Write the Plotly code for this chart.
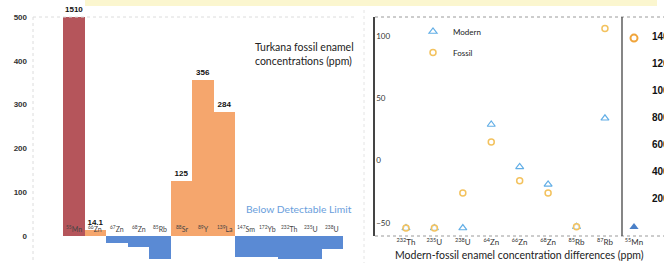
import plotly.graph_objects as go

W, H = 664, 263

# ---------------- data ----------------
conc_elements = ["<sup>55</sup>Mn", "<sup>66</sup>Zn", "<sup>67</sup>Zn", "<sup>68</sup>Zn", "<sup>85</sup>Rb",
                 "<sup>88</sup>Sr", "<sup>89</sup>Y", "<sup>139</sup>La", "<sup>147</sup>Sm", "<sup>172</sup>Yb",
                 "<sup>232</sup>Th", "<sup>235</sup>U", "<sup>238</sup>U"]
conc_values = [1510, 14.1, -16, -25, -52, 125, 356, 284, -48, -48, -52, -52, -30]
conc_status = ["max", "ok", "bdl", "bdl", "bdl", "ok", "ok", "ok", "bdl", "bdl", "bdl", "bdl", "bdl"]
conc_ticks = [0, 100, 200, 300, 400, 500]

diff_elements = ["<sup>232</sup>Th", "<sup>235</sup>U", "<sup>238</sup>U", "<sup>64</sup>Zn",
                 "<sup>66</sup>Zn", "<sup>68</sup>Zn", "<sup>85</sup>Rb", "<sup>87</sup>Rb"]
modern_diff = [-54, -54, -54, 29, -5, -19, -53, 34]
fossil_diff = [-54, -54, -26, 15, -16, -26, -53, 106]
diff_ticks = [-50, 0, 50, 100]

mn_elements = ["<sup>55</sup>Mn"]
mn_modern = [-15]
mn_fossil = [1385]
mn_ticks = [200, 400, 600, 800, 1000, 1200, 1400]

# ---------------- helpers ----------------
def px(x):
    return x / W

def py(y):
    return 1 - y / H

status_color = {"max": "#B5555B", "ok": "#F5A66D", "bdl": "#5A8AD4"}
FONT = "Lato"
BOLD = "Liberation Sans"

idx = list(range(len(conc_elements)))
bar_text = [("" if s == "max" or v <= 0 else f"{v:g}") for v, s in zip(conc_values, conc_status)]
bar_pos = ["outside" if t else "none" for t in bar_text]

fig = go.Figure()
fig.add_trace(go.Bar(
    x=idx, y=conc_values, width=1,
    marker=dict(color=[status_color[s] for s in conc_status], line=dict(width=0)),
    text=bar_text, textposition=bar_pos, constraintext="none",
    textfont=dict(family=BOLD, size=8, color="#111", weight="bold"),
    showlegend=False, xaxis="x", yaxis="y", cliponaxis=True,
))

fig.add_trace(go.Scatter(
    x=diff_elements, y=modern_diff, mode="markers", name="Modern", legendgroup="m",
    marker=dict(symbol="triangle-up", size=7, color="rgba(255,255,255,0.7)",
                line=dict(color="#62AEE6", width=1.2)),
    xaxis="x2", yaxis="y2",
))
fig.add_trace(go.Scatter(
    x=diff_elements, y=fossil_diff, mode="markers", name="Fossil", legendgroup="f",
    marker=dict(symbol="circle", size=6, color="rgba(255,255,255,0.7)",
                line=dict(color="#F3C25E", width=1.5)),
    xaxis="x2", yaxis="y2",
))

fig.add_trace(go.Scatter(
    x=mn_elements, y=mn_modern, mode="markers", showlegend=False,
    marker=dict(symbol="triangle-up", size=8, color="#4A80C8", line=dict(width=0)),
    xaxis="x3", yaxis="y3",
))
fig.add_trace(go.Scatter(
    x=mn_elements, y=mn_fossil, mode="markers", showlegend=False,
    marker=dict(symbol="circle", size=7, color="rgba(255,255,255,0)",
                line=dict(color="#F0A43A", width=2)),
    xaxis="x3", yaxis="y3",
))

annotations = []
# category labels sitting on the zero line
for i, lab in enumerate(conc_elements):
    annotations.append(dict(x=i, y=18, xref="x", yref="y", text=lab, showarrow=False,
                            font=dict(family=FONT, size=7, color="#444"), yanchor="middle"))
# label of the clipped first bar
annotations.append(dict(x=idx[0], y=conc_ticks[-1], xref="x", yref="y", text=f"{conc_values[0]:g}",
                        showarrow=False, yanchor="bottom", yshift=1,
                        font=dict(family=BOLD, size=8, color="#111", weight="bold")))
annotations.append(dict(x=px(253), y=py(53.5), xref="paper", yref="paper", xanchor="left", yanchor="middle",
                        align="left", showarrow=False,
                        text="Turkana fossil enamel<br>concentrations (ppm)",
                        font=dict(family=FONT, size=10.5, color="#222")))
annotations.append(dict(x=px(244), y=py(209), xref="paper", yref="paper", xanchor="left", yanchor="middle",
                        showarrow=False, text="Below Detectable Limit",
                        font=dict(family=FONT, size=10.3, color="#6A9EDC")))
annotations.append(dict(x=px(519), y=py(255), xref="paper", yref="paper", xanchor="center", yanchor="middle",
                        showarrow=False, text="Modern-fossil enamel concentration differences (ppm)",
                        font=dict(family=FONT, size=10.5, color="#222")))

shapes = [
    # faint slide-title band at top
    dict(type="rect", xref="paper", yref="paper", x0=px(85), x1=px(657), y0=py(6), y1=py(0),
         fillcolor="#FBF6CF", line=dict(width=0), layer="below"),
    # left panel faint frame
    dict(type="line", xref="paper", yref="paper", x0=px(33), x1=px(356), y0=py(17), y1=py(17),
         line=dict(color="#DCDCDC", width=1, dash="dot")),
    dict(type="line", xref="paper", yref="paper", x0=px(33), x1=px(33), y0=py(17), y1=py(263),
         line=dict(color="#DCDCDC", width=1, dash="dot")),
    dict(type="line", xref="paper", yref="paper", x0=px(364), x1=px(364), y0=py(10), y1=py(263),
         line=dict(color="#E4E4E4", width=1, dash="dot")),
    # middle/right frame
    dict(type="line", xref="paper", yref="paper", x0=px(375), x1=px(664), y0=py(17), y1=py(17),
         line=dict(color="#9A9A9A", width=1, dash="dot")),
    dict(type="line", xref="paper", yref="paper", x0=px(375), x1=px(664), y0=py(236), y1=py(236),
         line=dict(color="#9A9A9A", width=1, dash="dot")),
    dict(type="line", xref="paper", yref="paper", x0=px(622), x1=px(622), y0=py(17), y1=py(236),
         line=dict(color="#444", width=1.3)),
]

fig.update_layout(
    width=W, height=H, template="none",
    margin=dict(l=0, r=0, t=0, b=0, pad=0),
    paper_bgcolor="white", plot_bgcolor="rgba(0,0,0,0)",
    bargap=0, font=dict(family=FONT, color="#333"),
    showlegend=True,
    legend=dict(x=px(413), y=py(17), xanchor="left", yanchor="top", bgcolor="rgba(0,0,0,0)",
                font=dict(family=FONT, size=8, color="#222"), tracegroupgap=2,
                itemwidth=30),
    xaxis=dict(domain=[px(33), px(356)], range=[-1.9, 13.1], anchor="y",
               showticklabels=False, showgrid=False, zeroline=False, showline=False, ticks=""),
    yaxis=dict(domain=[0, py(17)], range=[-61.6, 500], anchor="x", tickvals=conc_ticks,
               tickfont=dict(family=BOLD, size=8, color="#333", weight="bold"),
               ticks="", showgrid=False, zeroline=False, showline=False, automargin=False,
               ticklabelstandoff=5),
    xaxis2=dict(domain=[px(375), px(622)], range=[-1.09, 7.6], anchor="y2", type="category",
                tickfont=dict(family=FONT, size=8, color="#333"), ticks="",
                showgrid=False, zeroline=False, showline=False, automargin=False,
                ticklabelstandoff=0),
    yaxis2=dict(domain=[py(236), py(17)], range=[-60.4, 115.2], anchor="x2", tickvals=diff_ticks,
                ticklabelposition="inside", tickfont=dict(family=FONT, size=8, color="#333"),
                ticks="", showgrid=False, zeroline=False, showline=True, linecolor="#444",
                linewidth=1.5, automargin=False),
    xaxis3=dict(domain=[px(622), 1], range=[-1, 2.5], anchor="y3", type="category",
                tickfont=dict(family=FONT, size=8, color="#333"), ticks="",
                showgrid=False, zeroline=False, showline=False, automargin=False,
                ticklabelstandoff=0),
    yaxis3=dict(domain=[py(236), py(17)], range=[-81, 1541], anchor="free", position=px(651),
                side="right", tickvals=mn_ticks,
                tickfont=dict(family=BOLD, size=10, color="#111", weight="bold"),
                ticks="", showgrid=False, zeroline=False, showline=False, automargin=False),
    annotations=annotations, shapes=shapes,
)

fig.write_html("out.html", config={"displayModeBar": False},
               post_script="document.body.style.margin='0';document.body.style.overflow='hidden';")
